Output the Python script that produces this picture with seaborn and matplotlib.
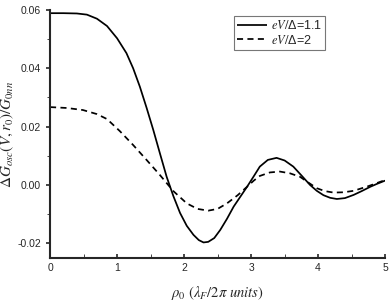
import numpy as np
import pandas as pd
import seaborn as sns
import matplotlib.pyplot as plt

# values
rho_solid = [0.0, 0.2, 0.4, 0.55, 0.7, 0.85, 1.0, 1.14, 1.24, 1.34, 1.44, 1.54, 1.64, 1.74,
             1.84, 1.94, 2.04, 2.14, 2.22, 2.29, 2.36, 2.45, 2.54, 2.64, 2.74, 2.84,
             2.94, 3.04, 3.13, 3.25, 3.38, 3.5, 3.63, 3.75, 3.88, 3.98, 4.08, 4.18,
             4.28, 4.4, 4.53, 4.65, 4.78, 4.88, 5.0]
g_solid = [0.0589, 0.0589, 0.0588, 0.0584, 0.0570, 0.0545, 0.0503, 0.0452, 0.0400, 0.0337,
           0.0265, 0.0189, 0.0108, 0.0028, -0.0038, -0.0096, -0.0140, -0.0171,
           -0.0189, -0.0197, -0.0195, -0.0182, -0.0154, -0.0116, -0.0074, -0.0040,
           -0.0006, 0.0030, 0.0063, 0.0086, 0.0093, 0.0084, 0.0063, 0.0033, 0.0000,
           -0.0020, -0.0035, -0.0044, -0.0048, -0.0045, -0.0034, -0.0021, -0.0006,
           0.0004, 0.0015]

rho_dash = [0.0, 0.25, 0.49, 0.7, 0.85, 1.04, 1.24, 1.44, 1.64, 1.84, 2.04, 2.2,
            2.36, 2.5, 2.64, 2.8, 2.94, 3.04, 3.13, 3.28, 3.43, 3.58, 3.73, 3.85,
            3.98, 4.1, 4.23, 4.38, 4.53, 4.75, 5.0]
g_dash = [0.0267, 0.0264, 0.0257, 0.0243, 0.0226, 0.0185, 0.0137, 0.0086, 0.0034,
          -0.0021, -0.0063, -0.0082, -0.0088, -0.0082, -0.0063, -0.0035, -0.0006,
          0.0015, 0.0031, 0.0043, 0.0046, 0.0040, 0.0028, 0.0009, -0.0011, -0.0021,
          -0.0026, -0.0025, -0.0020, -0.0004, 0.0017]

labels = [r'$eV/$Δ=1.1', r'$eV/$Δ=2']

df = pd.concat([
    pd.DataFrame({'rho': rho_solid, 'g': g_solid, 'case': labels[0]}),
    pd.DataFrame({'rho': rho_dash, 'g': g_dash, 'case': labels[1]}),
])

sns.set_style("ticks")
plt.rcParams['font.family'] = ['Liberation Sans', 'DejaVu Sans']
plt.rcParams['mathtext.fontset'] = 'stix'

fig = plt.figure(figsize=(3.91, 3.02), dpi=100)
ax = fig.add_axes([0.128, 0.146, 0.857, 0.821])

sns.lineplot(data=df, x='rho', y='g', hue='case', style='case',
             palette=['black', 'black'], dashes=[(1, 0), (3.5, 2.5)],
             linewidth=1.25, ax=ax, sort=False)

ax.set_xlim(0, 5)
ax.set_ylim(-0.025, 0.06)
ax.set_xticks([0, 1, 2, 3, 4, 5])
ax.set_xticks(np.arange(0.5, 5, 1), minor=True)
ax.set_yticks([-0.02, 0.0, 0.02, 0.04, 0.06])
ax.set_yticks([-0.01, 0.01, 0.03, 0.05], minor=True)
ax.set_yticklabels(['-0.02', '0.00', '0.02', '0.04', '0.06'])
ax.tick_params(axis='both', labelsize=7.5, width=1.2)
ax.tick_params(axis='x', which='both', direction='in', length=3)
ax.tick_params(axis='y', which='major', direction='out', length=3)
ax.tick_params(axis='y', which='minor', direction='out', length=2)
sns.despine(ax=ax)
for s in ['left', 'bottom']:
    ax.spines[s].set_linewidth(1.5)

ax.set_xlabel(r'$\rho_0\ (\lambda_F/2\pi\ units)$', fontsize=10.5, labelpad=8)
ax.set_ylabel(r'$\Delta G_{osc}(V,r_0)/G_{0nn}$', fontsize=11, labelpad=1)

leg = ax.legend(loc='upper right', bbox_to_anchor=(0.82, 0.975), fontsize=9,
                frameon=True, fancybox=False, handlelength=2.4, handletextpad=0.3,
                borderpad=0.25, labelspacing=0.1, borderaxespad=0)
leg.get_frame().set_edgecolor('#555555')
leg.get_frame().set_linewidth(0.8)

plt.savefig('out.png', dpi=100)
